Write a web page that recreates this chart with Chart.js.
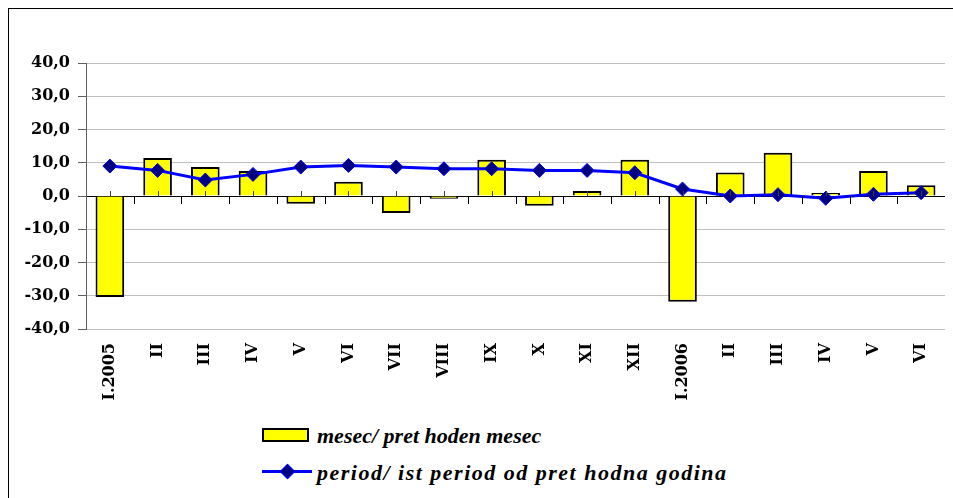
<!DOCTYPE html>
<html>
<head>
<meta charset="utf-8">
<script src="https://cdn.jsdelivr.net/npm/chart.js@4.4.1/dist/chart.umd.min.js"></script>
<style>
  html, body { margin:0; padding:0; background:#fff; width:953px; height:498px; overflow:hidden; }
  #frame { position:absolute; left:8px; top:8px; width:960px; height:500px; border:1px solid #000; box-sizing:border-box; }
  #wrap { position:absolute; left:0; top:0; width:953px; height:410px; }
  .leg { position:absolute; left:317px; font-family:"Liberation Serif", serif; font-weight:bold; font-style:italic; font-size:22px; line-height:24px; color:#000; white-space:nowrap; }
  .box { position:absolute; left:262px; top:428px; width:47px; height:14px; background:#ffff00; border:2px solid #000; box-sizing:border-box; }
  .ln { position:absolute; left:262px; top:470px; width:50px; height:3px; background:#0000ff; }
  .dm { position:absolute; left:282px; top:466px; width:9px; height:9px; background:#000080; border:1px solid #0000ff; transform:rotate(45deg); }
</style>
</head>
<body>
<div id="frame"></div>
<div id="wrap"><canvas id="c" width="953" height="410"></canvas></div>
<div class="box"></div>
<div class="leg" style="top:424px;">mesec/ pret hoden mesec</div>
<div class="ln"></div><div class="dm"></div>
<div class="leg" style="top:461px; letter-spacing:1.5px;">period/ ist period od pret hodna godina</div>
<script>
const categories = ["I.2005","II","III","IV","V","VI","VII","VIII","IX","X","XI","XII","I.2006","II","III","IV","V","VI"];
const monthly = [-30.4, 11.4, 8.7, 7.5, -2.3, 4.3, -5.1, -0.8, 10.9, -2.9, 1.5, 10.9, -31.8, 7.1, 13.0, 0.9, 7.5, 3.2];
const period = [9.0, 7.7, 4.8, 6.5, 8.7, 9.2, 8.7, 8.2, 8.2, 7.7, 7.7, 7.0, 2.1, 0.0, 0.4, -0.7, 0.5, 1.0];
const yTicks = [-40, -30, -20, -10, 0, 10, 20, 30, 40];

const axisFont = { family: "'DejaVu Serif', serif", weight: 'bold', size: 16 };

const catTicks = {
  id: 'catTicks',
  afterDatasetsDraw(chart) {
    const ctx = chart.ctx, x = chart.scales.x, y = chart.scales.y;
    const y0 = y.getPixelForValue(0);
    ctx.save();
    ctx.lineWidth = 1;
    const n = categories.length;
    const step = x.getPixelForValue(1) - x.getPixelForValue(0);
    ctx.strokeStyle = '#000';
    for (let i = 1; i < n; i++) {
      const px = Math.round(x.getPixelForValue(i) - step / 2) + 0.5;
      ctx.beginPath(); ctx.moveTo(px, y0); ctx.lineTo(px, y0 + 8); ctx.stroke();
    }
    ctx.strokeStyle = '#404040';
    for (let i = 0; i < n; i++) {
      const px = Math.round(x.getPixelForValue(i)) + 0.5;
      ctx.beginPath(); ctx.moveTo(px, y0 - 5); ctx.lineTo(px, y0); ctx.stroke();
    }
    ctx.restore();
  }
};

new Chart(document.getElementById('c'), {
  data: {
    labels: categories,
    datasets: [
      {
        type: 'line', label: 'period/ ist period od pret hodna godina', data: period, order: 0,
        borderColor: '#0000ff', borderWidth: 3, backgroundColor: '#000080',
        pointStyle: 'rectRot', pointRadius: 7, pointBorderColor: '#0000ff', pointBorderWidth: 1,
        pointBackgroundColor: '#000080', tension: 0
      },
      {
        type: 'bar', label: 'mesec/ pret hoden mesec', data: monthly, order: 1,
        backgroundColor: '#ffff00', borderColor: '#000', borderWidth: 2,
        barPercentage: 0.6, categoryPercentage: 1.0
      }
    ]
  },
  plugins: [catTicks],
  options: {
    responsive: false, animation: false,
    layout: { padding: { left: 0, top: 63, right: 3, bottom: 0 } },
    plugins: { legend: { display: false }, tooltip: { enabled: false } },
    scales: {
      x: {
        offset: true,
        grid: { display: false },
        border: { display: false },
        ticks: { color: '#000', font: axisFont, minRotation: 90, maxRotation: 90, padding: 6, autoSkip: false },
        afterFit(s) { s.height = 81; }
      },
      y: {
        min: -40, max: 40,
        afterBuildTicks(s) { s.ticks = yTicks.map(v => ({ value: v })); },
        grid: {
          color: c => (c.tick && c.tick.value === 0) ? '#000' : '#c0c0c0',
          lineWidth: 1, tickLength: 8, tickColor: '#606060'
        },
        border: { display: true, color: '#606060', width: 1 },
        ticks: {
          color: '#000', font: axisFont, padding: 8,
          callback: v => v.toFixed(1).replace('.', ',')
        },
        afterFit(s) { s.width = 86; }
      }
    }
  }
});
</script>
</body>
</html>
